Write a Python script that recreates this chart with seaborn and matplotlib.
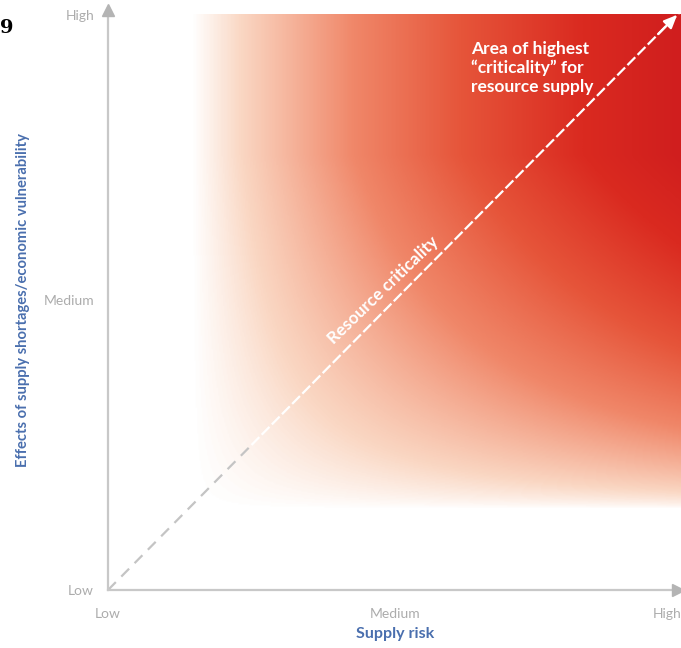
import numpy as np
import matplotlib
matplotlib.use("Agg")
import matplotlib.pyplot as plt
from matplotlib.colors import LinearSegmentedColormap
import seaborn as sns
import pandas as pd

# Axis categories
levels = ["Low", "Medium", "High"]
level_pos = [0, 1, 2]

# Criticality diagonal (supply risk vs. vulnerability)
diag_risk = [0.0, 0.5, 2.0]
diag_vuln = [0.0, 0.5, 2.0]

# Heat field colour stops (intensity -> colour)
heat_stops = [0.0, 0.1, 0.33, 0.55, 0.8, 1.0]
heat_colors = ["#ffffff", "#fad7c3", "#f08769", "#e6553a", "#da2a20", "#d01e1e"]

# Extent of the shaded field in data units
field_x = [0.29, 2.0]
field_y = [0.28, 1.985]
field_y_full = 1.5

sns.set_style("white")
plt.rcParams["font.family"] = ["Lato", "DejaVu Sans"]

fig = plt.figure(figsize=(6.81, 6.48), dpi=100)
ax = fig.add_axes([108 / 681, 58 / 648, 574 / 681, 580 / 648])
ax.set_xlim(0, 2)
ax.set_ylim(0, 2)

# Shaded criticality field
cmap = LinearSegmentedColormap.from_list("crit", list(zip(heat_stops, heat_colors)))
nx, ny = 400, 400
xs = np.linspace(field_x[0], field_x[1], nx)
ys = np.linspace(field_y[0], field_y[1], ny)
h = (xs - field_x[0]) / (field_x[1] - field_x[0])
v = np.clip((ys - field_y[0]) / (field_y_full - field_y[0]), 0, 1) ** 0.75
inten = np.outer(v, h)
ax.imshow(cmap(inten), extent=[field_x[0], field_x[1], field_y[0], field_y[1]],
          origin="lower", aspect="auto", zorder=0, interpolation="bilinear")

# Diagonal: grey where it crosses white, white over the field
seg_lo = pd.DataFrame({"risk": diag_risk[:2], "vuln": diag_vuln[:2]})
seg_hi = pd.DataFrame({"risk": diag_risk[1:], "vuln": diag_vuln[1:]})
sns.lineplot(data=seg_lo, x="risk", y="vuln", ax=ax, color="#c4c4c4",
             lw=1.6, linestyle=(0, (5, 3.5)), zorder=3)
sns.lineplot(data=seg_hi, x="risk", y="vuln", ax=ax, color="white",
             lw=1.6, linestyle=(0, (5, 1.5)), zorder=3)
ax.annotate("", xy=(diag_risk[-1] - 0.01, diag_vuln[-1] - 0.01),
            xytext=(diag_risk[-1] - 0.09, diag_vuln[-1] - 0.09),
            arrowprops=dict(arrowstyle="-|>,head_length=0.8,head_width=0.35",
                            color="white", lw=1.6),
            annotation_clip=False, zorder=4)

# Axes: light grey spines with arrow heads
grey = "#c8c8c8"
for s in ["top", "right"]:
    ax.spines[s].set_visible(False)
for s in ["left", "bottom"]:
    ax.spines[s].set_color(grey)
    ax.spines[s].set_linewidth(1.6)
    ax.spines[s].set_zorder(5)
ax.plot([0], [2.0], marker="^", color="#b4b4b4", ms=8, clip_on=False, zorder=6)
ax.plot([1.985], [0], marker=">", color="#b4b4b4", ms=8, clip_on=False, zorder=6)

ax.set_xticks(level_pos)
ax.set_yticks(level_pos)
ax.set_xticklabels(levels)
ax.set_yticklabels(levels)
ax.tick_params(axis="both", direction="out", length=7, width=1.4, color=grey,
               labelcolor="#acacac", labelsize=10, pad=6)
ax.tick_params(axis="y", pad=3)
ax.xaxis.get_major_ticks()[2].tick1line.set_visible(False)
ax.yaxis.get_major_ticks()[2].tick1line.set_visible(False)
ax.get_xticklabels()[2].set_horizontalalignment("right")
ax.get_yticklabels()[2].set_verticalalignment("top")

blue = "#4a6fae"
ax.set_xlabel("Supply risk", color=blue, fontsize=11.5, fontweight="bold", labelpad=5)
ax.set_ylabel("Effects of supply shortages/economic vulnerability", color=blue,
              fontsize=10.6, fontweight="bold", labelpad=10)

# Annotations inside the field
ax.text(1.265, 1.80, "Area of highest\n\u201ccriticality\u201d for\nresource supply",
        color="white", fontsize=12.5, fontweight="bold", ha="left", va="center",
        linespacing=1.2, zorder=5)
ax.text(0.958, 1.034, "Resource criticality", color="white", fontsize=12.3,
        fontweight="bold", rotation=44, rotation_mode="anchor",
        ha="center", va="center", zorder=5)

# Figure number fragment at the page corner
fig.text(0.0, 0.957, "9", family="DejaVu Serif", fontweight="bold",
         fontsize=14, color="black", ha="left", va="center")

fig.savefig("out.png", dpi=100)
